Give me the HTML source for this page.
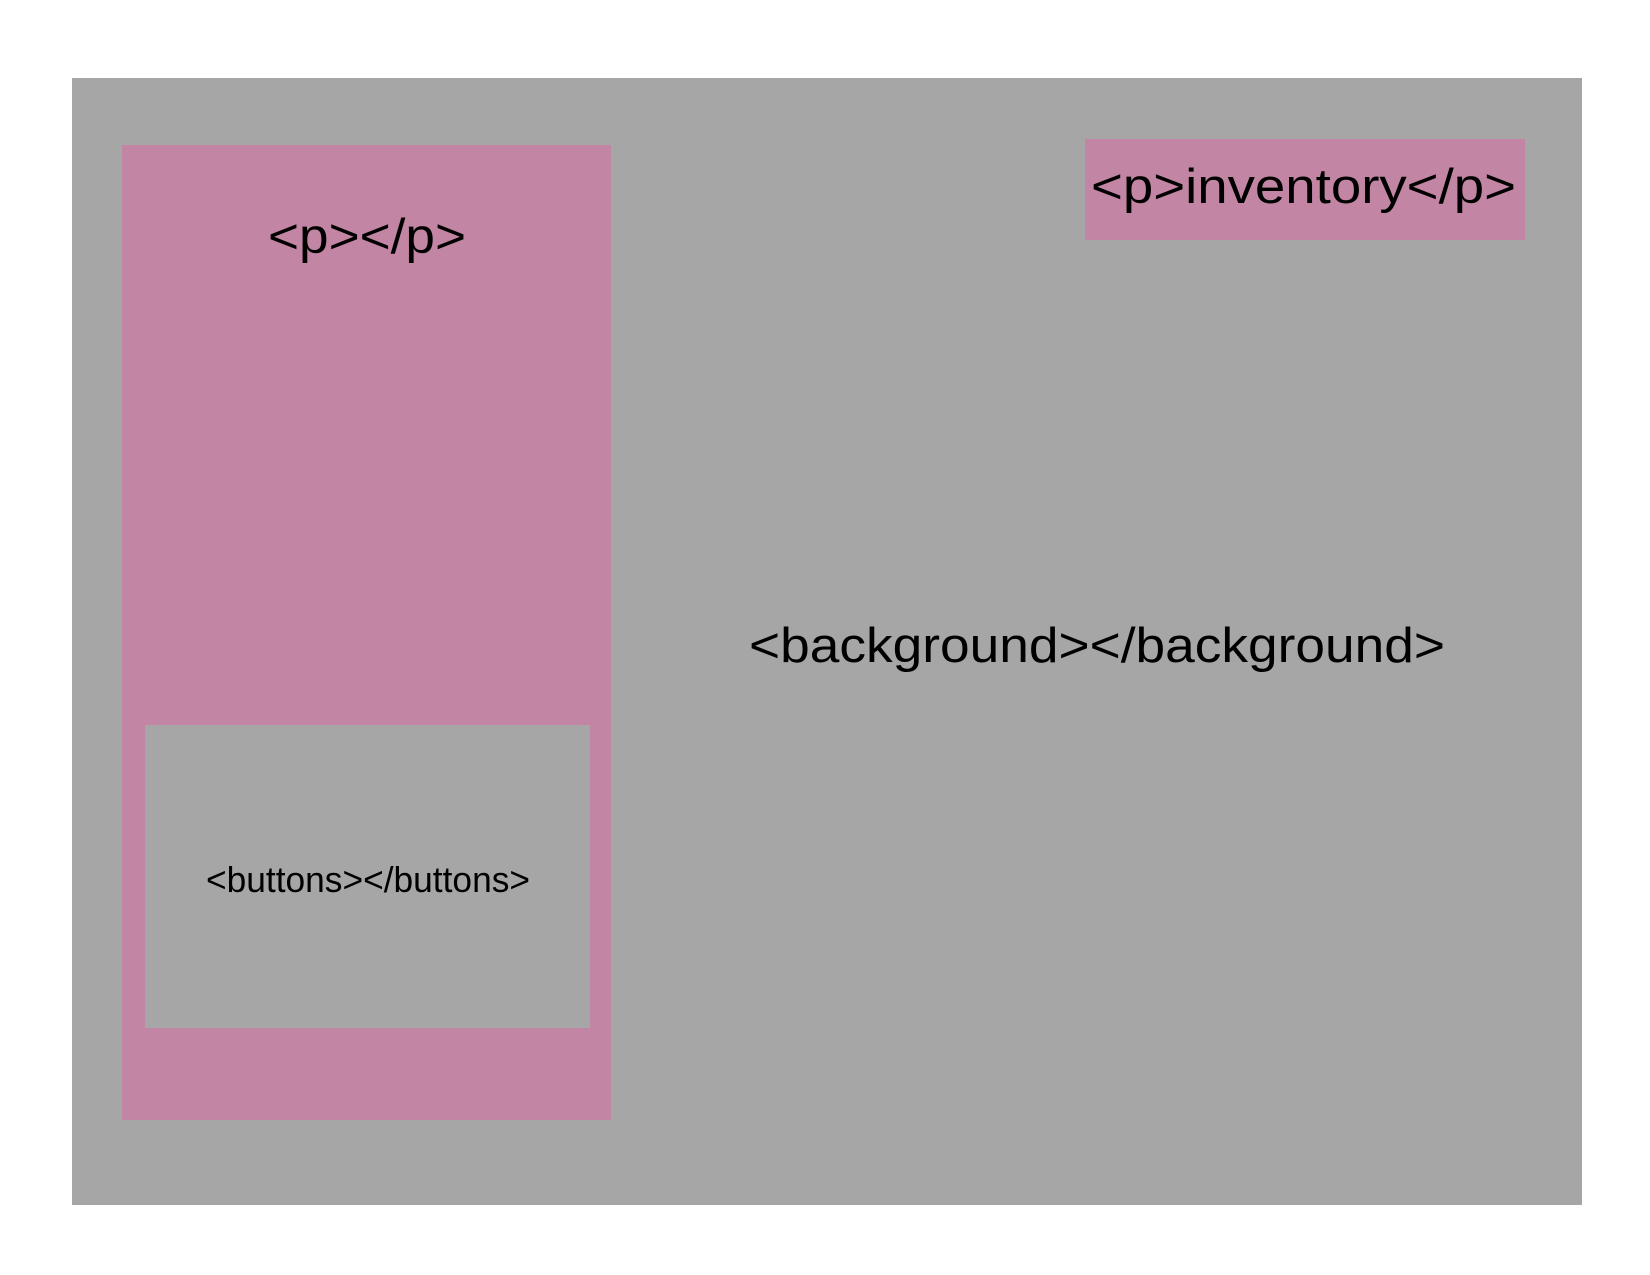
<!DOCTYPE html>
<html><head><meta charset="utf-8"><style>
html,body{margin:0;padding:0;background:#fff;}
svg{display:block;}
text{font-family:"Liberation Sans",sans-serif;fill:#000;}
</style></head><body>
<svg width="1650" height="1275" viewBox="0 0 1650 1275" xmlns="http://www.w3.org/2000/svg">
<rect x="0" y="0" width="1650" height="1275" fill="#fff"/>
<rect x="72" y="78" width="1510" height="1127" fill="#a6a6a6"/>
<rect x="122" y="145" width="489" height="975" fill="#c285a3"/>
<rect x="145" y="725" width="445" height="303" fill="#a6a6a6"/>
<rect x="1085" y="139" width="440" height="101" fill="#c285a3"/>
<text x="268" y="253" font-size="49" textLength="198" lengthAdjust="spacingAndGlyphs">&lt;p&gt;&lt;/p&gt;</text>
<text x="1091" y="203" font-size="49" textLength="425" lengthAdjust="spacingAndGlyphs">&lt;p&gt;inventory&lt;/p&gt;</text>
<text x="749" y="662" font-size="49" textLength="696" lengthAdjust="spacingAndGlyphs">&lt;background&gt;&lt;/background&gt;</text>
<text x="206" y="892" font-size="36" textLength="324" lengthAdjust="spacingAndGlyphs">&lt;buttons&gt;&lt;/buttons&gt;</text>
</svg>
</body></html>
